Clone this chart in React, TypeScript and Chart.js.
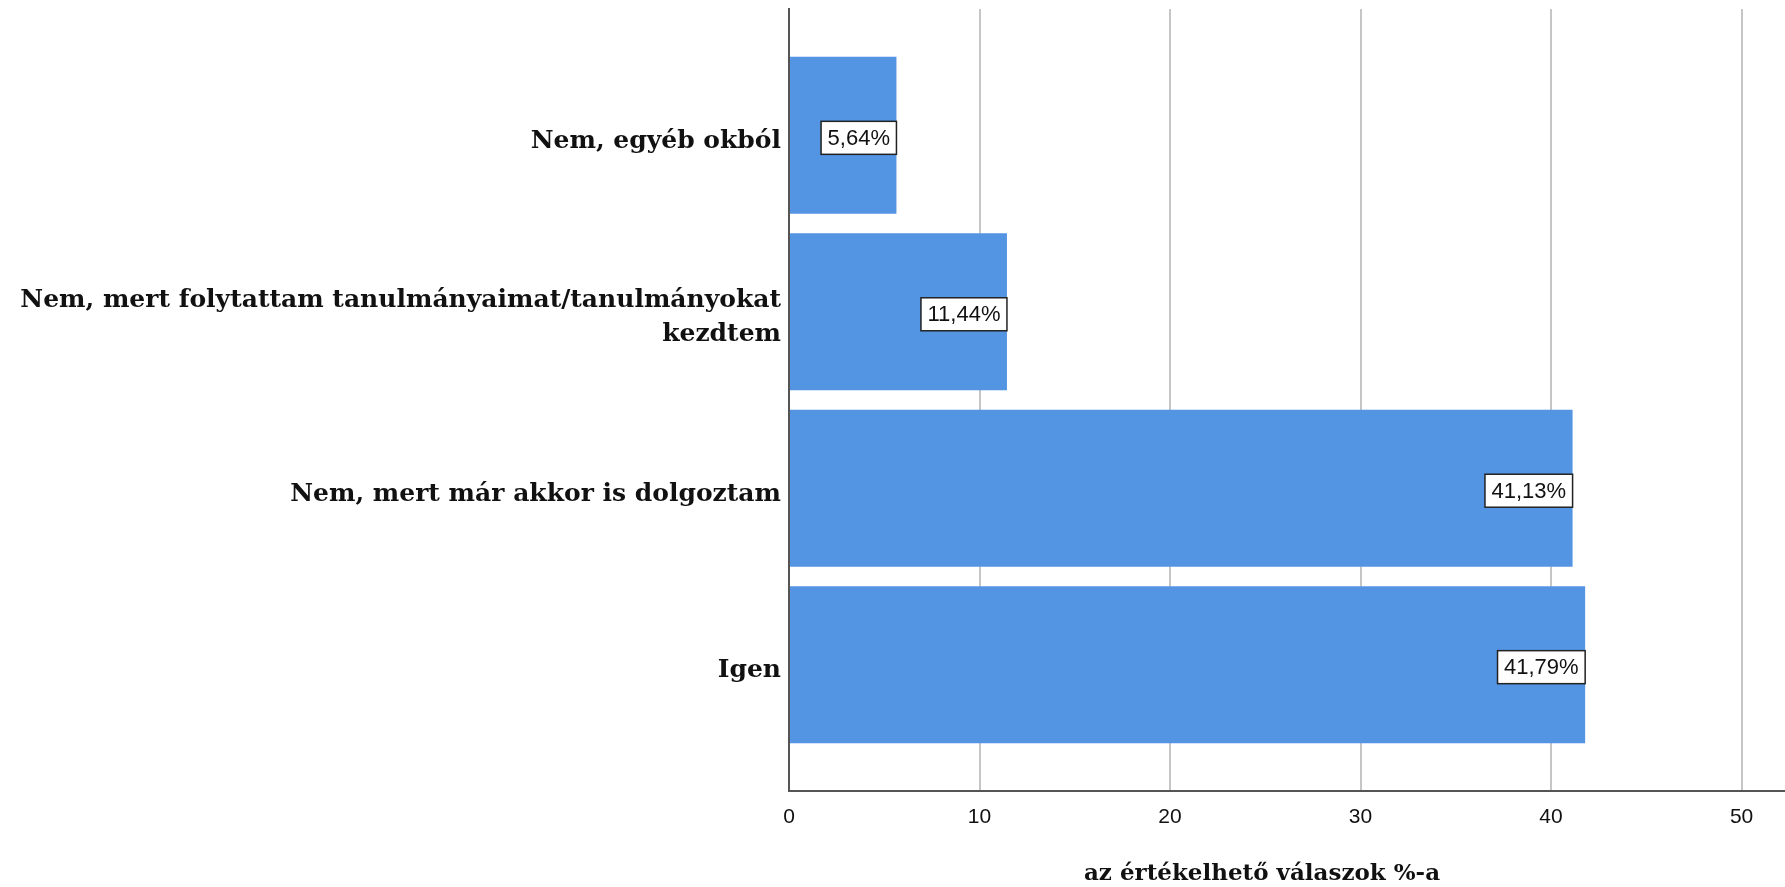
import React, { useEffect, useRef } from "react";
import { Chart, registerables } from "chart.js";

Chart.register(...registerables);

const categories: (string | string[])[] = [
  "Nem, egyéb okból",
  ["Nem, mert folytattam tanulmányaimat/tanulmányokat", "kezdtem"],
  "Nem, mert már akkor is dolgoztam",
  "Igen",
];
const values: number[] = [5.64, 11.44, 41.13, 41.79];
const valueLabels: string[] = ["5,64%", "11,44%", "41,13%", "41,79%"];
const xTicks: number[] = [0, 10, 20, 30, 40, 50];
const xTitle = "az értékelhető válaszok %-a";

const BAR_COLOR = "#5394e3";
const SERIF = "'DejaVu Serif', serif";
const SANS = "'Liberation Sans', Arial, sans-serif";

const labelPlugin = {
  id: "valueBoxes",
  afterDatasetsDraw(chart: any) {
    const ctx = chart.ctx;
    const meta = chart.getDatasetMeta(0);
    ctx.save();
    ctx.font = `22px ${SANS}`;
    meta.data.forEach((bar: any, i: number) => {
      const text = valueLabels[i];
      const w = ctx.measureText(text).width + 13;
      const h = 33;
      const right = bar.x;
      const cy = bar.y + 2.5;
      const left = right - w;
      const top = cy - h / 2;
      ctx.fillStyle = "#ffffff";
      ctx.fillRect(left, top, w, h);
      ctx.strokeStyle = "#222222";
      ctx.lineWidth = 1.5;
      ctx.strokeRect(left, top, w, h);
      ctx.fillStyle = "#111111";
      ctx.textAlign = "center";
      ctx.textBaseline = "middle";
      ctx.fillText(text, left + w / 2, cy + 1);
    });
    ctx.restore();
  },
  afterDraw(chart: any) {
    const ctx = chart.ctx;
    ctx.save();
    ctx.font = `bold 23px ${SERIF}`;
    ctx.fillStyle = "#111111";
    ctx.textAlign = "center";
    ctx.textBaseline = "middle";
    ctx.fillText(xTitle, 1262, 874);
    ctx.restore();
  },
};

export default function App() {
  const ref = useRef<HTMLCanvasElement>(null);
  useEffect(() => {
    document.body.style.margin = "0";
    const canvas = ref.current!;
    const chart = new Chart(canvas, {
      type: "bar",
      data: {
        datasets: [
          {
            data: values.map((v, i) => ({ x: v, y: i })),
            backgroundColor: BAR_COLOR,
            borderWidth: 0,
            categoryPercentage: 1,
            barPercentage: 0.89,
          },
        ],
      },
      options: {
        indexAxis: "y",
        animation: false,
        responsive: false,
        layout: { padding: { top: 9, right: 0, left: 0, bottom: 0 } },
        plugins: {
          legend: { display: false },
          tooltip: { enabled: false },
        },
        scales: {
          y: {
            type: "linear",
            reverse: true,
            offset: false,
            min: -0.716,
            max: 3.716,
            afterBuildTicks(scale: any) {
              scale.ticks = categories.map((_, i) => ({ value: i }));
            },
            afterFit(scale: any) {
              scale.width = 789;
              scale.paddingTop = 0;
              scale.paddingBottom = 0;
            },
            grid: { display: false, drawTicks: false, offset: false },
            border: { display: true, color: "#555555", width: 2 },
            ticks: {
              padding: 8,
              labelOffset: 6,
              color: "#111111",
              font: { family: SERIF, weight: "bold", size: 25, lineHeight: 1.36 },
              callback: (v: any) => categories[v as number],
            },
          },
          x: {
            type: "linear",
            min: 0,
            max: 52.28,
            afterBuildTicks(scale: any) {
              scale.ticks = xTicks.map((v) => ({ value: v }));
            },
            afterFit(scale: any) {
              scale.height = 96;
              scale.paddingLeft = 0;
              scale.paddingRight = 0;
            },
            grid: { color: "#c6c6c6", lineWidth: 2, drawTicks: false },
            border: { display: true, color: "#555555", width: 2 },
            ticks: {
              padding: 14,
              color: "#111111",
              font: { family: SANS, size: 21 },
              callback: (v: any) => String(v),
            },
          },
        },
      },
      plugins: [labelPlugin],
    });
    return () => chart.destroy();
  }, []);
  return (
    <div style={{ width: 1785, height: 887 }}>
      <canvas ref={ref} width={1785} height={887} style={{ display: "block" }} />
    </div>
  );
}
